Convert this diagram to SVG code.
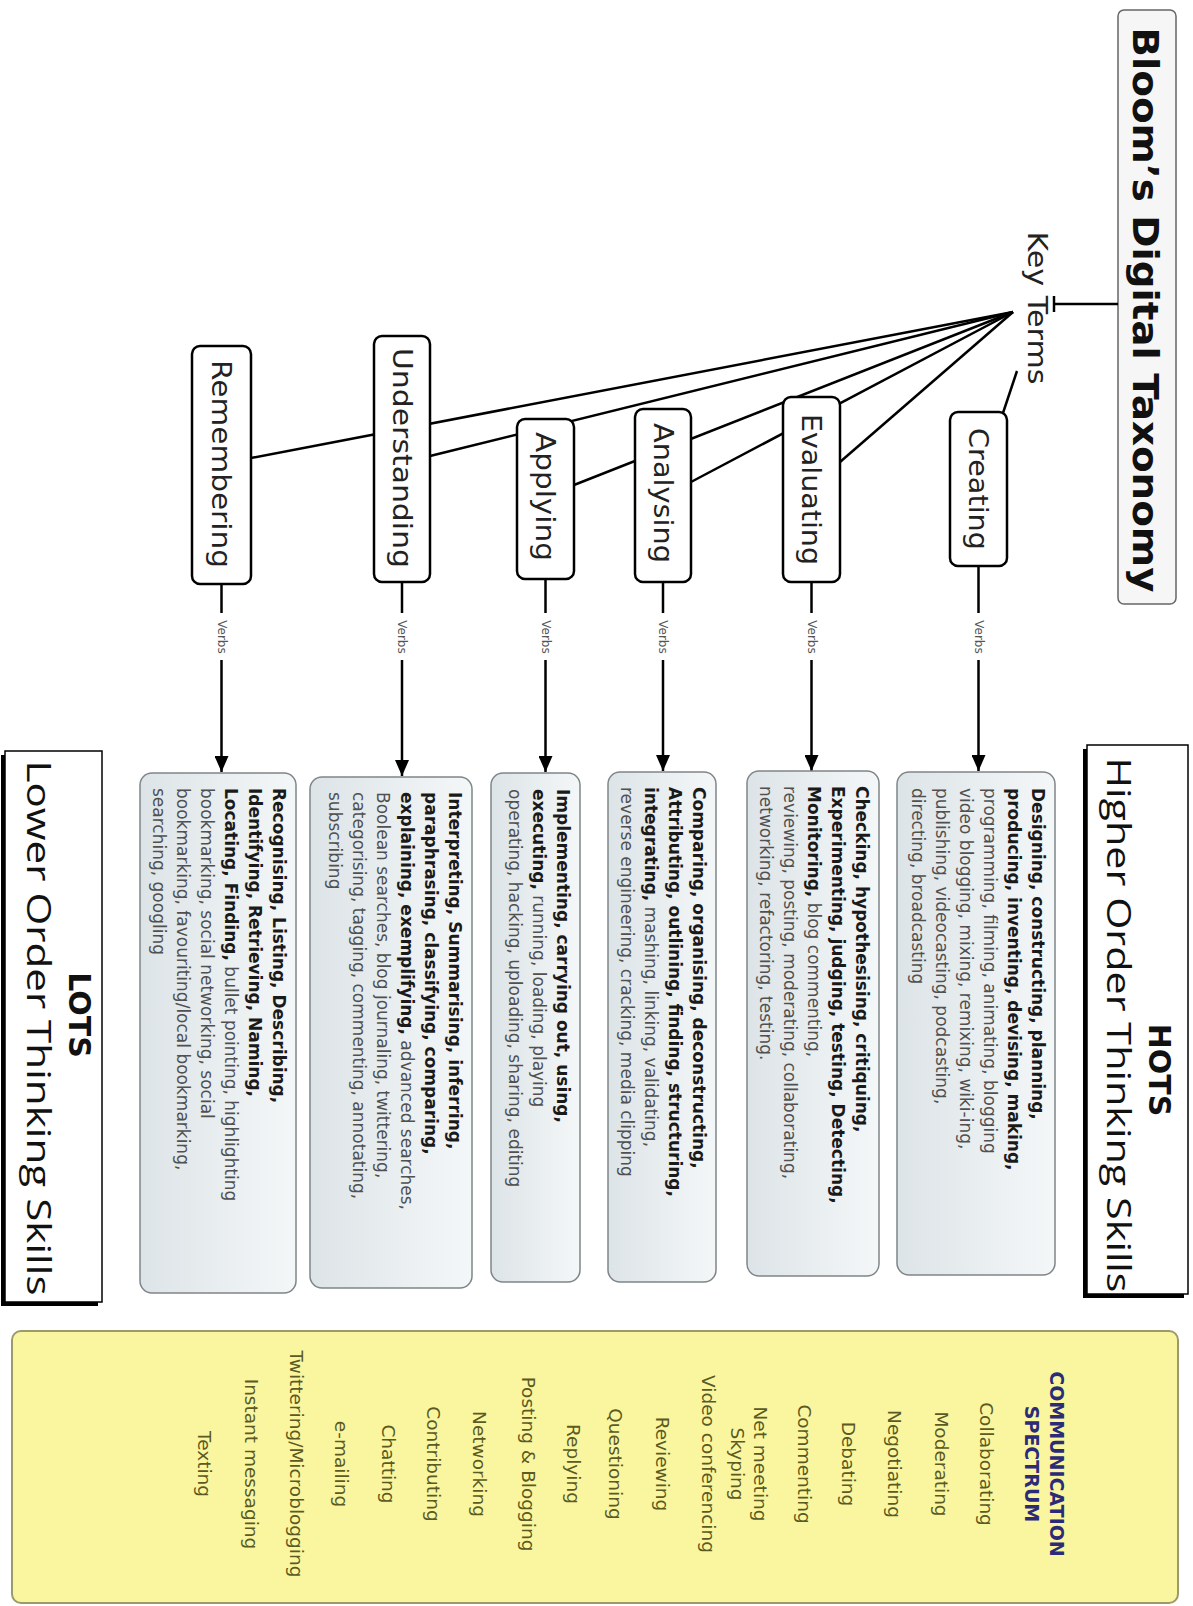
<svg xmlns="http://www.w3.org/2000/svg" width="1193" height="1606" viewBox="0 0 1193 1606">
<defs>
<style>
.node rect{fill:#fff;stroke:#000;stroke-width:2.5}
.lbl{font-family:"DejaVu Sans",sans-serif;font-size:26px;fill:#222;text-anchor:middle}
.vbox{fill:url(#vg);stroke:#7f8588;stroke-width:1.5}
.vt{font-family:"DejaVu Sans",sans-serif;font-size:17px;fill:#505050}
.b{font-weight:bold;fill:#1a1a1a}
.conn{stroke:#000;stroke-width:2.5;fill:none}
.verbs{font-family:"DejaVu Sans",sans-serif;font-size:12px;fill:#555;text-anchor:middle}
.ci{font-family:"DejaVu Sans",sans-serif;font-size:18.5px;fill:#5a5a22;text-anchor:middle}
.big{font-family:"Open Sans","DejaVu Sans",sans-serif;font-size:32px;fill:#111;text-anchor:middle}
.bigb{font-family:"DejaVu Sans",sans-serif;font-size:30px;font-weight:bold;fill:#111;text-anchor:middle}
</style>
<linearGradient id="vg" x1="0" y1="0" x2="0" y2="1"><stop offset="0" stop-color="#f4f7f8"/><stop offset="1" stop-color="#dde4e7"/></linearGradient>
<marker id="ah" markerUnits="userSpaceOnUse" markerWidth="16" markerHeight="14" refX="16" refY="7" orient="auto"><path d="M0,0 L16,7 L0,14 z" fill="#000"/></marker>
</defs>
<rect width="1193" height="1606" fill="#fff"/>
<g transform="translate(1193,0) rotate(90)">

<g id="title">
<rect x="10" y="17" width="594" height="58" rx="6" fill="#f6f6f6" stroke="#666" stroke-width="1.5"/>
<text x="310" y="60" font-family="DejaVu Sans, sans-serif" font-size="36" font-weight="bold" fill="#111" text-anchor="middle" textLength="565" lengthAdjust="spacingAndGlyphs">Bloom’s Digital Taxonomy</text>
</g>

<g id="connectors">
<line class="conn" x1="304" y1="75" x2="304" y2="139" stroke-width="2"/>
<line class="conn" x1="296" y1="139" x2="312" y2="139" stroke-width="2"/>
<line class="conn" x1="371" y1="176" x2="413" y2="190"/>
<line class="conn" x1="312" y1="180" x2="462" y2="353"/>
<line class="conn" x1="312" y1="180" x2="482" y2="502"/>
<line class="conn" x1="312" y1="180" x2="485" y2="619"/>
<line class="conn" x1="312" y1="180" x2="456" y2="763"/>
<line class="conn" x1="312" y1="180" x2="458" y2="942"/>
<line class="conn" x1="566" y1="214.5" x2="613" y2="214.5"/><line class="conn" x1="660" y1="214.5" x2="771" y2="214.5" marker-end="url(#ah)"/>
<text class="verbs" x="637" y="218.5">Verbs</text>
<line class="conn" x1="582" y1="381.5" x2="613" y2="381.5"/><line class="conn" x1="660" y1="381.5" x2="771" y2="381.5" marker-end="url(#ah)"/>
<text class="verbs" x="637" y="385.5">Verbs</text>
<line class="conn" x1="582" y1="530" x2="613" y2="530"/><line class="conn" x1="660" y1="530" x2="771" y2="530" marker-end="url(#ah)"/>
<text class="verbs" x="637" y="534">Verbs</text>
<line class="conn" x1="579" y1="647.5" x2="613" y2="647.5"/><line class="conn" x1="660" y1="647.5" x2="772" y2="647.5" marker-end="url(#ah)"/>
<text class="verbs" x="637" y="651.5">Verbs</text>
<line class="conn" x1="582" y1="791" x2="613" y2="791"/><line class="conn" x1="660" y1="791" x2="776" y2="791" marker-end="url(#ah)"/>
<text class="verbs" x="637" y="795">Verbs</text>
<line class="conn" x1="584" y1="971.5" x2="613" y2="971.5"/><line class="conn" x1="660" y1="971.5" x2="772" y2="971.5" marker-end="url(#ah)"/>
<text class="verbs" x="637" y="975.5">Verbs</text>
</g>

<g id="key-terms">
<text x="308" y="165" font-family="DejaVu Sans, sans-serif" font-size="26" fill="#222" text-anchor="middle" textLength="153" lengthAdjust="spacingAndGlyphs">Key Terms</text>
</g>

<g id="node-creating" class="node"><rect x="412" y="186" width="154" height="57" rx="8"/><text class="lbl" x="489" y="224" textLength="122" lengthAdjust="spacingAndGlyphs">Creating</text></g>
<g id="node-evaluating" class="node"><rect x="397" y="353" width="185" height="57" rx="8"/><text class="lbl" x="489.5" y="391" textLength="151" lengthAdjust="spacingAndGlyphs">Evaluating</text></g>
<g id="node-analysing" class="node"><rect x="409" y="502" width="173" height="56" rx="8"/><text class="lbl" x="493" y="539.5" textLength="140" lengthAdjust="spacingAndGlyphs">Analysing</text></g>
<g id="node-applying" class="node"><rect x="419" y="619" width="160" height="57" rx="8"/><text class="lbl" x="496.5" y="657" textLength="129" lengthAdjust="spacingAndGlyphs">Applying</text></g>
<g id="node-understanding" class="node"><rect x="336" y="763" width="246" height="56" rx="8"/><text class="lbl" x="458" y="800.5" textLength="220" lengthAdjust="spacingAndGlyphs">Understanding</text></g>
<g id="node-remembering" class="node"><rect x="346" y="942" width="238" height="59" rx="8"/><text class="lbl" x="464" y="981" textLength="208" lengthAdjust="spacingAndGlyphs">Remembering</text></g>

<g id="verbs-creating">
<rect class="vbox" x="772" y="138" width="503" height="158" rx="12"/>
<text class="vt" x="788" y="161"><tspan class="b">Designing, constructing, planning,</tspan></text>
<text class="vt" x="788" y="185"><tspan class="b">producing, inventing, devising, making,</tspan></text>
<text class="vt" x="788" y="209">programming, filming, animating, blogging</text>
<text class="vt" x="788" y="233">video blogging, mixing, remixing, wiki-ing,</text>
<text class="vt" x="788" y="257">publishing, videocasting, podcasting,</text>
<text class="vt" x="788" y="281">directing, broadcasting</text>
</g>
<g id="verbs-evaluating">
<rect class="vbox" x="771" y="314" width="505" height="132" rx="12"/>
<text class="vt" x="786" y="337"><tspan class="b">Checking, hypothesising, critiquing,</tspan></text>
<text class="vt" x="786" y="361"><tspan class="b">Experimenting, judging, testing, Detecting,</tspan></text>
<text class="vt" x="786" y="385"><tspan class="b">Monitoring,</tspan> blog commenting,</text>
<text class="vt" x="786" y="409">reviewing, posting, moderating, collaborating,</text>
<text class="vt" x="786" y="433">networking, refactoring, testing.</text>
</g>
<g id="verbs-analysing">
<rect class="vbox" x="772" y="477" width="510" height="108" rx="12"/>
<text class="vt" x="787" y="500"><tspan class="b">Comparing, organising, deconstructing,</tspan></text>
<text class="vt" x="787" y="524"><tspan class="b">Attributing, outlining, finding, structuring,</tspan></text>
<text class="vt" x="787" y="548"><tspan class="b">integrating,</tspan> mashing, linking, validating,</text>
<text class="vt" x="787" y="572">reverse engineering, cracking, media clipping</text>
</g>
<g id="verbs-applying">
<rect class="vbox" x="773" y="613" width="509" height="89" rx="12"/>
<text class="vt" x="789" y="636"><tspan class="b">Implementing, carrying out, using,</tspan></text>
<text class="vt" x="789" y="660"><tspan class="b">executing,</tspan> running, loading, playing</text>
<text class="vt" x="789" y="684">operating, hacking, uploading, sharing, editing</text>
</g>
<g id="verbs-understanding">
<rect class="vbox" x="777" y="721" width="511" height="162" rx="12"/>
<text class="vt" x="792" y="744"><tspan class="b">Interpreting, Summarising, inferring,</tspan></text>
<text class="vt" x="792" y="768"><tspan class="b">paraphrasing, classifying, comparing,</tspan></text>
<text class="vt" x="792" y="792"><tspan class="b">explaining, exemplifying,</tspan> advanced searches,</text>
<text class="vt" x="792" y="816">Boolean searches, blog journaling, twittering,</text>
<text class="vt" x="792" y="840">categorising, tagging, commenting, annotating,</text>
<text class="vt" x="792" y="864">subscribing</text>
</g>
<g id="verbs-remembering">
<rect class="vbox" x="773" y="897" width="520" height="156" rx="12"/>
<text class="vt" x="788" y="920"><tspan class="b">Recognising, Listing, Describing,</tspan></text>
<text class="vt" x="788" y="944"><tspan class="b">Identifying, Retrieving, Naming,</tspan></text>
<text class="vt" x="788" y="968"><tspan class="b">Locating, Finding,</tspan> bullet pointing, highlighting</text>
<text class="vt" x="788" y="992">bookmarking, social networking, social</text>
<text class="vt" x="788" y="1016">bookmarking, favouriting/local bookmarking,</text>
<text class="vt" x="788" y="1040">searching, googling</text>
</g>

<g id="hots">
<rect x="749" y="9" width="549" height="101" fill="#000"/>
<rect x="745" y="5" width="549" height="101" fill="#fff" stroke="#000" stroke-width="1.5"/>
<text class="bigb" x="1070" y="44">HOTS</text>
<text class="big" x="1025" y="86" textLength="535" lengthAdjust="spacingAndGlyphs">Higher Order Thinking Skills</text>
</g>
<g id="lots">
<rect x="755" y="1095" width="551" height="97" fill="#000"/>
<rect x="751" y="1091" width="551" height="97" fill="#fff" stroke="#000" stroke-width="1.5"/>
<text class="bigb" x="1015" y="1124">LOTS</text>
<text class="big" x="1028" y="1166" textLength="535" lengthAdjust="spacingAndGlyphs">Lower Order Thinking Skills</text>
</g>

<g id="communication-spectrum">
<rect x="1331" y="15" width="272" height="1166" rx="9" fill="#faf6a0" stroke="#9c9a6a" stroke-width="2"/>
<text x="1464" y="143" font-family="DejaVu Sans, sans-serif" font-size="19" font-weight="bold" fill="#2b2b78" text-anchor="middle">COMMUNICATION</text>
<text x="1464" y="168" font-family="DejaVu Sans, sans-serif" font-size="19" font-weight="bold" fill="#2b2b78" text-anchor="middle">SPECTRUM</text>
<text class="ci" x="1464" y="213">Collaborating</text>
<text class="ci" x="1464" y="258">Moderating</text>
<text class="ci" x="1464" y="305">Negotiating</text>
<text class="ci" x="1464" y="351">Debating</text>
<text class="ci" x="1464" y="395">Commenting</text>
<text class="ci" x="1464" y="439">Net meeting</text>
<text class="ci" x="1464" y="462">Skyping</text>
<text class="ci" x="1464" y="491">Video conferencing</text>
<text class="ci" x="1464" y="537">Reviewing</text>
<text class="ci" x="1464" y="584">Questioning</text>
<text class="ci" x="1464" y="626">Replying</text>
<text class="ci" x="1464" y="671">Posting &amp; Blogging</text>
<text class="ci" x="1464" y="720">Networking</text>
<text class="ci" x="1464" y="766">Contributing</text>
<text class="ci" x="1464" y="811">Chatting</text>
<text class="ci" x="1464" y="858">e-mailing</text>
<text class="ci" x="1464" y="903">Twittering/Microblogging</text>
<text class="ci" x="1464" y="948">Instant messaging</text>
<text class="ci" x="1464" y="995">Texting</text>
</g>

</g>
</svg>
